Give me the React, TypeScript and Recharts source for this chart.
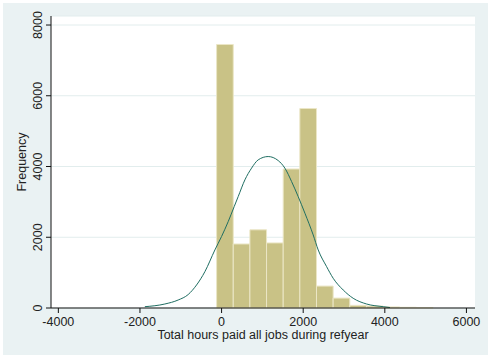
import React from 'react';
import { ComposedChart, Line, XAxis, YAxis, CartesianGrid, ReferenceArea, Label } from 'recharts';

// histogram bins (hours) and their frequencies
const binEdges = [-122, 286, 694, 1102, 1510, 1918, 2326, 2734, 3142, 3550, 3958, 4366, 4774, 5182];
const binCounts = [7450, 1810, 2210, 1840, 3930, 5640, 620, 280, 75, 55, 30, 20, 12];

// normal density overlay
const curveX = [-1880, -1390, -1064, -819, -613, -409, -164, 0, 162, 309, 407, 571, 735, 897, 1142, 1387, 1551, 1716, 1877, 2042, 2245, 2368, 2574, 2735, 2980, 3225, 3554, 3961, 4125];
const curveY = [37, 113, 226, 380, 651, 1027, 1641, 2023, 2442, 2867, 3150, 3622, 3954, 4188, 4282, 4169, 3954, 3574, 3150, 2680, 2066, 1641, 1169, 840, 509, 275, 113, 37, 14];

const xTicks = [-4000, -2000, 0, 2000, 4000, 6000];
const yTicks = [0, 2000, 4000, 6000, 8000];

const curveData = curveX.map((x, i) => ({ x, y: curveY[i] }));
const bins = binCounts.map((count, i) => ({ x1: binEdges[i], x2: binEdges[i + 1], count }));

const FONT = '"Liberation Sans", Arial, sans-serif';
const TEXT = '#222';
const BAR_FILL = '#c9c286';
const BAR_EDGE = '#ebe6c6';
const CURVE = '#1f6e62';

const XTick = ({ x, y, payload }: any) => (
  <text x={x} y={y} dy="0.71em" textAnchor="middle" fontSize={12.5} fontFamily={FONT} fill={TEXT}>
    {payload.value}
  </text>
);

const YTick = ({ x, y, payload }: any) => (
  <text x={x} y={y} transform={`rotate(-90 ${x} ${y})`} textAnchor="middle" fontSize={12.5} fontFamily={FONT} fill={TEXT}>
    {payload.value}
  </text>
);

const YTitle = () => (
  <text x={25.5} y={162} transform="rotate(-90 25.5 162)" textAnchor="middle" fontSize={12.5} fontFamily={FONT} fill={TEXT}>
    Frequency
  </text>
);

export default function App() {
  return (
    <div style={{ position: 'absolute', left: 0, top: 0, width: 492, height: 361, background: '#fff' }}>
      <div style={{ position: 'absolute', left: 3, top: 3, width: 485, height: 352, background: '#eaf2f3' }} />
      <div style={{ position: 'absolute', left: 0, top: 0 }}>
        <ComposedChart width={492} height={361} margin={{ top: 16, right: 17, bottom: 0, left: 0 }}>
          <CartesianGrid vertical={false} fill="#fff" stroke="#e2eded" />
          <XAxis
            type="number"
            dataKey="x"
            domain={[-4180, 6210]}
            ticks={xTicks}
            allowDataOverflow
            height={53}
            tickSize={5}
            tickMargin={4.5}
            stroke="#111"
            tick={<XTick />}
          >
            <Label
              value="Total hours paid all jobs during refyear"
              position="insideBottom"
              offset={22}
              fontSize={12.5}
              fontFamily={FONT}
              fill={TEXT}
            />
          </XAxis>
          <YAxis
            type="number"
            domain={[0, 8255]}
            ticks={yTicks}
            allowDataOverflow
            width={51}
            tickSize={5}
            tickMargin={4}
            stroke="#111"
            tick={<YTick />}
            label={<Label content={<YTitle />} />}
          />
          {bins.map((b, i) => (
            <ReferenceArea
              key={`bin-${i}`}
              x1={b.x1}
              x2={b.x2}
              y1={0}
              y2={b.count}
              fill={BAR_FILL}
              fillOpacity={1}
              stroke={BAR_EDGE}
              strokeWidth={1}
            />
          ))}
          <Line
            data={curveData}
            dataKey="y"
            type="monotone"
            stroke={CURVE}
            strokeWidth={1}
            dot={false}
            activeDot={false}
            isAnimationActive={false}
          />
        </ComposedChart>
      </div>
    </div>
  );
}
